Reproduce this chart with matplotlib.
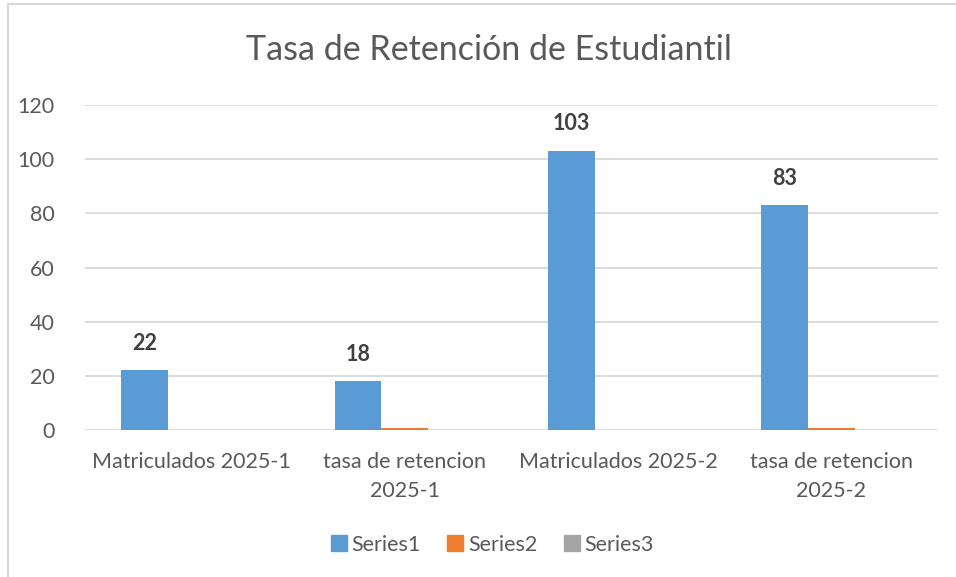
import numpy as np
import matplotlib
matplotlib.use("Agg")
import matplotlib.pyplot as plt
from matplotlib.lines import Line2D

categories = ["Matriculados 2025-1", "tasa de retencion\n2025-1",
              "Matriculados 2025-2", "tasa de retencion\n2025-2"]
series1 = [22, 18, 103, 83]
series2 = [0, 0.82, 0, 0.81]
series3 = [0, 0, 0, 0]
series_names = ["Series1", "Series2", "Series3"]
yticks = [0, 20, 40, 60, 80, 100, 120]

#visuals
COLORS = ["#5B9BD5", "#ED7D31", "#A5A5A5"]
TEXT = "#595959"
GRID = "#D9D9D9"
plt.rcParams["font.family"] = ["Lato", "DejaVu Sans"]

fig = plt.figure(figsize=(9.56, 5.77), dpi=100)
ax = fig.add_axes([85 / 956, 1 - 430 / 577, 853 / 956, 325 / 577])

x = np.arange(len(categories))
w = 0.22
for i, vals in enumerate([series1, series2, series3]):
    ax.bar(x + (i - 1) * w, vals, width=w, color=COLORS[i], zorder=3)

# data labels for series1
for xi, v in zip(x, series1):
    ax.annotate(str(v), (xi - w, v), xytext=(0, 12), textcoords="offset points",
                ha="center", va="bottom", fontsize=15.5, fontweight="bold",
                color="#404040")

ax.set_xlim(-0.5, 3.5)
ax.set_ylim(0, 120)
ax.set_yticks(yticks)
ax.set_xticks(x)
ax.set_xticklabels(categories, fontsize=15.5, color=TEXT, linespacing=1.55)
ax.tick_params(axis="y", labelsize=15.5, labelcolor=TEXT, length=0, pad=22)
ax.tick_params(axis="x", length=0, pad=16)
for t in ax.get_yticklabels():
    t.set_horizontalalignment("right")
ax.grid(axis="y", color=GRID, linewidth=1.3, zorder=0)
for s in ax.spines.values():
    s.set_visible(False)

fig.text(489 / 956, 1 - 50 / 577, "Tasa de Retención de Estudiantil",
         ha="center", va="center", fontsize=24.5, color=TEXT)

handles = [Line2D([], [], marker="s", linestyle="", markersize=11,
                  color=c) for c in COLORS]
fig.legend(handles, series_names, loc="center", bbox_to_anchor=(491 / 956, 1 - 545 / 577),
           ncol=3, frameon=False, fontsize=15.5, labelcolor=TEXT,
           handletextpad=0.1, columnspacing=1.1, handlelength=1.0)

# outer chart frame (left and top edges visible)
fig.add_artist(Line2D([8 / 956, 8 / 956], [0, 1 - 4 / 577], transform=fig.transFigure,
                      color="#D9D9D9", linewidth=1.5))
fig.add_artist(Line2D([8 / 956, 1], [1 - 4 / 577, 1 - 4 / 577], transform=fig.transFigure,
                      color="#D9D9D9", linewidth=1.5))

fig.savefig("out.png", dpi=100, facecolor="white")
